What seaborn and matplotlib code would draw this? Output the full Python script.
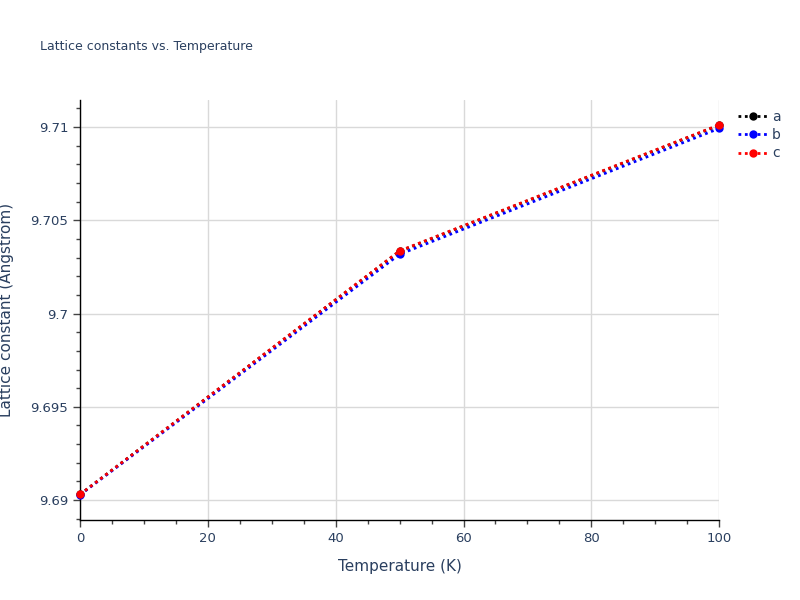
import matplotlib
matplotlib.use('Agg')
import matplotlib.pyplot as plt
from matplotlib.ticker import MultipleLocator, FuncFormatter
from matplotlib.lines import Line2D
import seaborn as sns
import pandas as pd

# valeurs
temperature = [0, 50, 100]
a_vals = [9.69030, 9.70334, 9.71010]
b_vals = [9.69028, 9.70318, 9.70993]
c_vals = [9.69030, 9.70336, 9.71012]
series_names = ['a', 'b', 'c']
series_colors = ['black', 'blue', 'red']

df = pd.DataFrame({
    'Temperature': temperature * 3,
    'value': a_vals + b_vals + c_vals,
    'serie': ['a'] * 3 + ['b'] * 3 + ['c'] * 3,
})

sns.set_style('white')
plt.rcParams['font.family'] = ['DejaVu Sans']
text_col = '#2a3f5f'
dots = (0, (1, 1.3))

fig = plt.figure(figsize=(8, 6), dpi=100)
ax = fig.add_axes([0.1, 0.1333, 0.799, 0.7])

sns.lineplot(data=df, x='Temperature', y='value', hue='serie', hue_order=series_names,
             palette=dict(zip(series_names, series_colors)), marker='o', markersize=6,
             markeredgewidth=0, linewidth=2, ax=ax, legend=False, zorder=3)
for line in ax.get_lines():
    line.set_linestyle(dots)
    line.set_clip_on(False)

ax.set_xlim(0, 100)
ax.set_ylim(9.68893, 9.71145)
ax.xaxis.set_major_locator(MultipleLocator(20))
ax.xaxis.set_minor_locator(MultipleLocator(5))
ax.yaxis.set_major_locator(MultipleLocator(0.005))
ax.yaxis.set_minor_locator(MultipleLocator(0.001))
ax.yaxis.set_major_formatter(FuncFormatter(lambda v, p: ('%.3f' % v).rstrip('0').rstrip('.')))

ax.grid(True, which='major', color='#d9d9d9', linewidth=1, zorder=0)
for s in ['top', 'right']:
    ax.spines[s].set_visible(False)
for s in ['left', 'bottom']:
    ax.spines[s].set_color('black')
    ax.spines[s].set_linewidth(1)
ax.tick_params(which='major', direction='out', length=5, width=1, color='#444444',
               labelsize=9.5, labelcolor=text_col, left=True, bottom=True)
ax.tick_params(which='minor', direction='out', length=3, width=1, color='#444444',
               left=True, bottom=True)

ax.set_xlabel('Temperature (K)', fontsize=11, color=text_col, labelpad=10)
ax.set_ylabel('Lattice constant (Angstrom)', fontsize=11, color=text_col, labelpad=12)
fig.text(0.05, 0.917, 'Lattice constants vs. Temperature', fontsize=9, color=text_col)

# légende à droite
handles = [Line2D([0], [0], color=c, linestyle=dots, linewidth=2, marker='o',
                  markersize=6, markeredgewidth=0) for c in series_colors]
leg = fig.legend(handles, series_names, loc='upper left', bbox_to_anchor=(0.908, 0.835),
                 frameon=False, fontsize=10, handlelength=2.2, labelspacing=0.3,
                 handletextpad=0.3, borderpad=0.3)
for t in leg.get_texts():
    t.set_color(text_col)

fig.savefig('out.png', dpi=100)
